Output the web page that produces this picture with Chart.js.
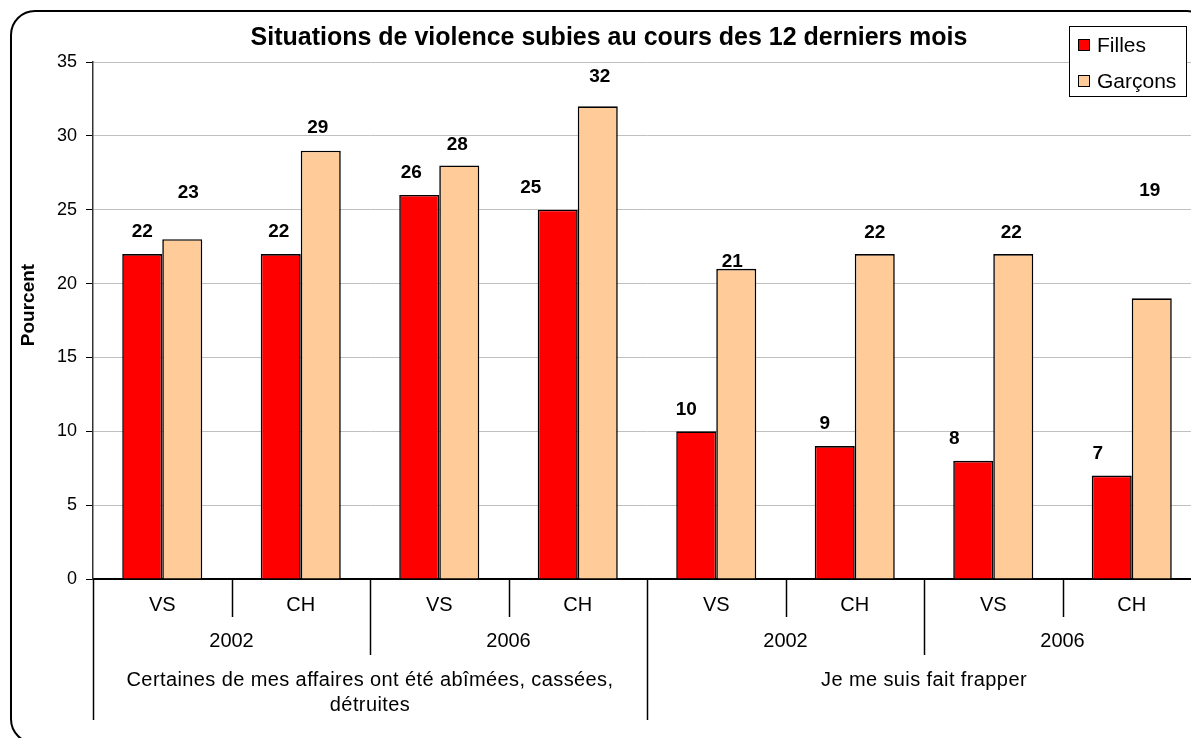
<!DOCTYPE html>
<html>
<head>
<meta charset="utf-8">
<script src="https://cdn.jsdelivr.net/npm/chart.js@4/dist/chart.umd.min.js"></script>
<style>
  html, body { margin: 0; padding: 0; background: #fff; overflow: hidden; }
  #wrap { width: 1191px; height: 738px; overflow: hidden; }
</style>
</head>
<body>
<div id="wrap"><canvas id="chart" width="1205" height="738"></canvas></div>
<script>
'use strict';
// data
const subLabels = ['VS', 'CH', 'VS', 'CH', 'VS', 'CH', 'VS', 'CH'];
const yearLabels = ['2002', '2006', '2002', '2006'];
const groupLabels = [
  ['Certaines de mes affaires ont été abîmées, cassées,', 'détruites'],
  ['Je me suis fait frapper']
];
const filles = [22, 22, 26, 25, 10, 9, 8, 7];
const garcons = [23, 29, 28, 32, 21, 22, 22, 19];
const seriesNames = ['Filles', 'Garçons'];
const yTicks = [0, 5, 10, 15, 20, 25, 30, 35];
const chartTitle = 'Situations de violence subies au cours des 12 derniers mois';
const yTitle = 'Pourcent';

// label nudges (dx, dy from the top of each bar), as placed in the original
const labelShift = [
  { dx: [0, -2, -8, -27, -10, -10, -19, -14], dy: [-22, -22, -22, -22, -22, -22, -22, -22] },
  { dx: [6, -3, -2, 2, -4, 0, -2, -2], dy: [-46, -23, -21, -30, -7, -21, -21, -108] }
];

const FONT = 'Liberation Sans, Arial, sans-serif';

const decor = {
  id: 'decor',
  beforeDraw(chart) {
    const c = chart.ctx;
    c.save();
    c.fillStyle = '#fff';
    c.fillRect(0, 0, chart.width, chart.height);
    c.restore();
  },
  afterDatasetsDraw(chart) {
    const c = chart.ctx;
    c.save();
    c.font = 'bold 19px ' + FONT;
    c.fillStyle = '#000';
    c.textAlign = 'center';
    c.textBaseline = 'middle';
    chart.data.datasets.forEach((ds, d) => {
      chart.getDatasetMeta(d).data.forEach((bar, i) => {
        c.fillText(String(ds.data[i]), bar.x + labelShift[d].dx[i], bar.y + labelShift[d].dy[i]);
      });
    });
    c.restore();
  },
  afterDraw(chart) {
    const c = chart.ctx;
    const a = chart.chartArea;
    const n = subLabels.length;
    const step = (a.right - a.left) / n;
    const edge = i => a.left + i * step;

    c.save();
    // separators under the axis
    c.strokeStyle = '#000';
    c.lineWidth = 1.5;
    for (let i = 0; i <= n; i++) {
      let len = 38;
      if (i % 4 === 0) len = 141;
      else if (i % 2 === 0) len = 76;
      c.beginPath();
      c.moveTo(Math.round(edge(i)) + 0.5, a.bottom);
      c.lineTo(Math.round(edge(i)) + 0.5, a.bottom + len);
      c.stroke();
    }
    c.fillStyle = '#000';
    c.textAlign = 'center';
    c.textBaseline = 'middle';
    c.font = '20px ' + FONT;
    yearLabels.forEach((t, i) => {
      c.fillText(t, (edge(i * 2) + edge(i * 2 + 2)) / 2, a.bottom + 62);
    });
    c.letterSpacing = '0.4px';
    groupLabels.forEach((lines, g) => {
      const cx = (edge(g * 4) + edge(g * 4 + 4)) / 2;
      lines.forEach((t, k) => c.fillText(t, cx, a.bottom + 101 + k * 25));
    });
    c.letterSpacing = '0px';

    // title
    c.font = 'bold 25px ' + FONT;
    c.fillText(chartTitle, 609, 38);

    // y title
    c.save();
    c.translate(29, 305);
    c.rotate(-Math.PI / 2);
    c.font = 'bold 19px ' + FONT;
    c.fillText(yTitle, 0, 0);
    c.restore();

    // legend
    c.fillStyle = '#fff';
    c.fillRect(1069, 26, 117, 70);
    c.strokeStyle = '#000';
    c.lineWidth = 1;
    c.strokeRect(1069.5, 26.5, 117, 70);
    c.textAlign = 'left';
    c.font = '21px ' + FONT;
    chart.data.datasets.forEach((ds, d) => {
      const yy = 45 + d * 36;
      c.fillStyle = ds.backgroundColor;
      c.fillRect(1078, yy - 6, 12, 12);
      c.strokeRect(1078.5, yy - 5.5, 11, 11);
      c.fillStyle = '#000';
      c.fillText(ds.label, 1097, yy + 1);
    });

    // rounded frame
    c.lineWidth = 2;
    c.strokeStyle = '#000';
    c.beginPath();
    c.roundRect(11, 11, 1200, 732, 24);
    c.stroke();
    c.restore();
  }
};

new Chart(document.getElementById('chart'), {
  type: 'bar',
  data: {
    labels: subLabels,
    datasets: [
      { label: seriesNames[0], data: filles, backgroundColor: '#FF0000', borderColor: '#000', borderWidth: 1.6 },
      { label: seriesNames[1], data: garcons, backgroundColor: '#FFCC99', borderColor: '#000', borderWidth: 1.6 }
    ]
  },
  options: {
    responsive: false,
    animation: false,
    layout: { padding: { top: 62, right: 4, left: 0, bottom: 0 } },
    datasets: { bar: { categoryPercentage: 0.578, barPercentage: 1 } },
    plugins: { legend: { display: false }, tooltip: { enabled: false }, title: { display: false } },
    scales: {
      x: {
        grid: { display: false, drawTicks: false },
        border: { display: true, color: '#000', width: 2 },
        ticks: { color: '#000', font: { family: FONT, size: 20 }, padding: 14, maxRotation: 0 },
        afterFit(s) { s.height = 159; }
      },
      y: {
        min: 0,
        max: 35,
        afterBuildTicks(s) { s.ticks = yTicks.map(v => ({ value: v })); },
        grid: { color: '#c0c0c0', lineWidth: 1, borderDash: [1, 1], tickColor: '#000', tickLength: 7, tickBorderDash: [] },
        border: { display: true, color: '#333', width: 1.5, dash: [] },
        ticks: { color: '#000', font: { family: FONT, size: 18 }, padding: 9 },
        afterFit(s) { s.width = 93; }
      }
    }
  },
  plugins: [decor]
});
</script>
</body>
</html>
